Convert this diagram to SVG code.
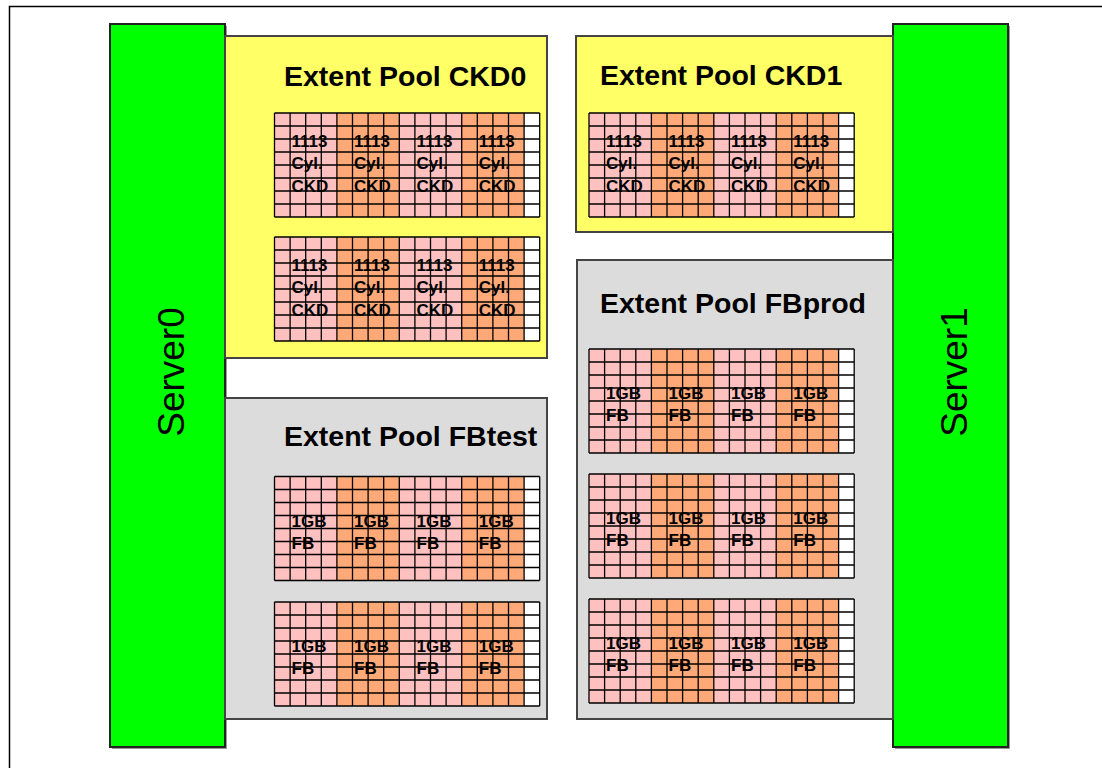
<svg xmlns="http://www.w3.org/2000/svg" xmlns:xlink="http://www.w3.org/1999/xlink" width="1102" height="768" viewBox="0 0 1102 768">
<style>
.server{fill:#00FF00;stroke:#222;stroke-width:2}
.shadow{fill:#9a9a9a}
.ckd{fill:#FFFF66;stroke:#444;stroke-width:2}
.fbp{fill:#DCDCDC;stroke:#444;stroke-width:2}
.title{font-family:"Liberation Sans",Arial,sans-serif;font-weight:bold;font-size:28.5px;fill:#000}
.srv{font-family:"Liberation Sans",Arial,sans-serif;font-size:37px;fill:#000}
.lbl{font-family:"Liberation Sans",Arial,sans-serif;font-weight:bold;font-size:17px;fill:#000}
.gl{fill:none;stroke:#000;stroke-width:1.3}
</style>
<defs>
<g id="fills">
<rect x="0" y="0" width="62.4" height="104" fill="#FFC0C0"/>
<rect x="62.4" y="0" width="62.4" height="104" fill="#FFA878"/>
<rect x="124.8" y="0" width="62.4" height="104" fill="#FFC0C0"/>
<rect x="187.2" y="0" width="62.4" height="104" fill="#FFA878"/>
<rect x="249.6" y="0" width="15.6" height="104" fill="#FFFFFF"/>
</g>
<path id="lines" class="gl" d="M0 0V104M15.6 0V104M31.2 0V104M46.8 0V104M62.4 0V104M78 0V104M93.6 0V104M109.2 0V104M124.8 0V104M140.4 0V104M156 0V104M171.6 0V104M187.2 0V104M202.8 0V104M218.4 0V104M234 0V104M249.6 0V104M265.2 0V104M0 0H265.2M0 13H265.2M0 26H265.2M0 39H265.2M0 52H265.2M0 65H265.2M0 78H265.2M0 91H265.2M0 104H265.2"/>
</defs>
<rect x="9.5" y="6.5" width="1200" height="800" fill="#fff" stroke="#000" stroke-width="1.5"/>

<g id="server0">
<rect class="shadow" x="112" y="26" width="115" height="723"/>
<rect class="server" x="110" y="24" width="115" height="723"/>
<text class="srv" transform="translate(184,372) rotate(-90)" text-anchor="middle">Server0</text>
</g>
<g id="server1">
<rect class="shadow" x="895" y="26" width="115" height="723"/>
<rect class="server" x="893" y="24" width="115" height="723"/>
<text class="srv" transform="translate(967,372) rotate(-90)" text-anchor="middle">Server1</text>
</g>

<g id="poolCKD0">
<rect class="ckd" x="225" y="36" width="322" height="322"/>
<text class="title" x="284" y="86">Extent Pool CKD0</text>
<g id="ckd0a" transform="translate(274.5,113)">
<use xlink:href="#fills"/>
<text class="lbl" x="17" y="34">1113</text><text class="lbl" x="17" y="56">Cyl.</text><text class="lbl" x="17" y="79">CKD</text>
<text class="lbl" x="79.5" y="34">1113</text><text class="lbl" x="79.5" y="56">Cyl.</text><text class="lbl" x="79.5" y="79">CKD</text>
<text class="lbl" x="142" y="34">1113</text><text class="lbl" x="142" y="56">Cyl.</text><text class="lbl" x="142" y="79">CKD</text>
<text class="lbl" x="204.3" y="34">1113</text><text class="lbl" x="204.3" y="56">Cyl.</text><text class="lbl" x="204.3" y="79">CKD</text>
<use xlink:href="#lines"/>
</g>
<g id="ckd0b" transform="translate(274.5,237)">
<use xlink:href="#fills"/>
<text class="lbl" x="17" y="34">1113</text><text class="lbl" x="17" y="56">Cyl.</text><text class="lbl" x="17" y="79">CKD</text>
<text class="lbl" x="79.5" y="34">1113</text><text class="lbl" x="79.5" y="56">Cyl.</text><text class="lbl" x="79.5" y="79">CKD</text>
<text class="lbl" x="142" y="34">1113</text><text class="lbl" x="142" y="56">Cyl.</text><text class="lbl" x="142" y="79">CKD</text>
<text class="lbl" x="204.3" y="34">1113</text><text class="lbl" x="204.3" y="56">Cyl.</text><text class="lbl" x="204.3" y="79">CKD</text>
<use xlink:href="#lines"/>
</g>
</g>

<g id="poolCKD1">
<rect class="ckd" x="576" y="36" width="317" height="196"/>
<text class="title" x="600" y="85">Extent Pool CKD1</text>
<g id="ckd1a" transform="translate(589,113)">
<use xlink:href="#fills"/>
<text class="lbl" x="17" y="34">1113</text><text class="lbl" x="17" y="56">Cyl.</text><text class="lbl" x="17" y="79">CKD</text>
<text class="lbl" x="79.5" y="34">1113</text><text class="lbl" x="79.5" y="56">Cyl.</text><text class="lbl" x="79.5" y="79">CKD</text>
<text class="lbl" x="142" y="34">1113</text><text class="lbl" x="142" y="56">Cyl.</text><text class="lbl" x="142" y="79">CKD</text>
<text class="lbl" x="204.3" y="34">1113</text><text class="lbl" x="204.3" y="56">Cyl.</text><text class="lbl" x="204.3" y="79">CKD</text>
<use xlink:href="#lines"/>
</g>
</g>

<g id="poolFBtest">
<rect class="fbp" x="225" y="398" width="322" height="321"/>
<text class="title" x="284" y="446">Extent Pool FBtest</text>
<g id="fbtesta" transform="translate(274.5,476.5)">
<use xlink:href="#fills"/>
<text class="lbl" x="17" y="50">1GB</text><text class="lbl" x="17" y="72">FB</text>
<text class="lbl" x="79.5" y="50">1GB</text><text class="lbl" x="79.5" y="72">FB</text>
<text class="lbl" x="142" y="50">1GB</text><text class="lbl" x="142" y="72">FB</text>
<text class="lbl" x="204.3" y="50">1GB</text><text class="lbl" x="204.3" y="72">FB</text>
<use xlink:href="#lines"/>
</g>
<g id="fbtestb" transform="translate(274.5,602)">
<use xlink:href="#fills"/>
<text class="lbl" x="17" y="50">1GB</text><text class="lbl" x="17" y="72">FB</text>
<text class="lbl" x="79.5" y="50">1GB</text><text class="lbl" x="79.5" y="72">FB</text>
<text class="lbl" x="142" y="50">1GB</text><text class="lbl" x="142" y="72">FB</text>
<text class="lbl" x="204.3" y="50">1GB</text><text class="lbl" x="204.3" y="72">FB</text>
<use xlink:href="#lines"/>
</g>
</g>

<g id="poolFBprod">
<rect class="fbp" x="577" y="260" width="316" height="459"/>
<text class="title" x="600" y="313">Extent Pool FBprod</text>
<g id="fbproda" transform="translate(589,349)">
<use xlink:href="#fills"/>
<text class="lbl" x="17" y="50">1GB</text><text class="lbl" x="17" y="72">FB</text>
<text class="lbl" x="79.5" y="50">1GB</text><text class="lbl" x="79.5" y="72">FB</text>
<text class="lbl" x="142" y="50">1GB</text><text class="lbl" x="142" y="72">FB</text>
<text class="lbl" x="204.3" y="50">1GB</text><text class="lbl" x="204.3" y="72">FB</text>
<use xlink:href="#lines"/>
</g>
<g id="fbprodb" transform="translate(589,474)">
<use xlink:href="#fills"/>
<text class="lbl" x="17" y="50">1GB</text><text class="lbl" x="17" y="72">FB</text>
<text class="lbl" x="79.5" y="50">1GB</text><text class="lbl" x="79.5" y="72">FB</text>
<text class="lbl" x="142" y="50">1GB</text><text class="lbl" x="142" y="72">FB</text>
<text class="lbl" x="204.3" y="50">1GB</text><text class="lbl" x="204.3" y="72">FB</text>
<use xlink:href="#lines"/>
</g>
<g id="fbprodc" transform="translate(589,599)">
<use xlink:href="#fills"/>
<text class="lbl" x="17" y="50">1GB</text><text class="lbl" x="17" y="72">FB</text>
<text class="lbl" x="79.5" y="50">1GB</text><text class="lbl" x="79.5" y="72">FB</text>
<text class="lbl" x="142" y="50">1GB</text><text class="lbl" x="142" y="72">FB</text>
<text class="lbl" x="204.3" y="50">1GB</text><text class="lbl" x="204.3" y="72">FB</text>
<use xlink:href="#lines"/>
</g>
</g>
<g id="connectors"/>
</svg>
